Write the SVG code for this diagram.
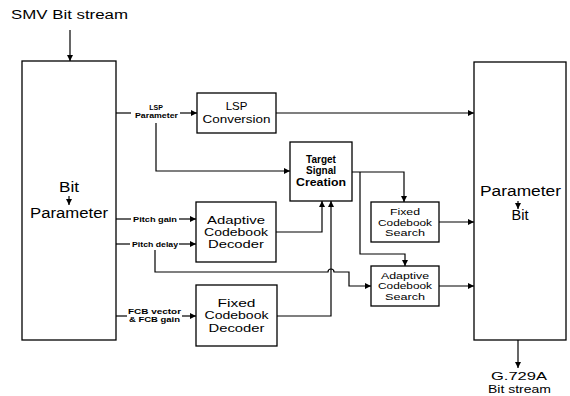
<svg xmlns="http://www.w3.org/2000/svg" width="570" height="396" viewBox="0 0 570 396">
<defs>
<marker id="ah" markerUnits="userSpaceOnUse" markerWidth="7" markerHeight="6" refX="6" refY="3" orient="auto">
<path d="M0,0 L6,3 L0,6 z" fill="#000"/>
</marker>
<style>
.box{fill:#fff;stroke:#000;stroke-width:1.3}
.ln{fill:none;stroke:#000;stroke-width:1.2}
.t{font-family:"Liberation Sans",Arial,sans-serif;fill:#000;text-anchor:middle}
.big{font-size:11px}
.mid{font-size:11.5px}
.sm{font-size:9px}
.lab{font-size:7px;font-weight:bold}
.b{font-weight:bold}
</style>
</defs>
<rect width="570" height="396" fill="#fff"/>
<text class="t" x="11" y="18.5" style="font-size:12.5px;text-anchor:start" textLength="117" lengthAdjust="spacingAndGlyphs">SMV Bit stream</text>

<g id="connectors">
<path class="ln" d="M70,30 V61" marker-end="url(#ah)"/>
<path class="ln" d="M116,113 H131"/>
<path class="ln" d="M180,113 H197" marker-end="url(#ah)"/>
<path class="ln" d="M156,123 V171 H290" marker-end="url(#ah)"/>
<path class="ln" d="M276,113 H474" marker-end="url(#ah)"/>
<path class="ln" d="M116,219 H131"/>
<path class="ln" d="M179,219 H196" marker-end="url(#ah)"/>
<path class="ln" d="M116,244 H130"/>
<path class="ln" d="M179,244 H196" marker-end="url(#ah)"/>
<path class="ln" d="M155,250 V272 H328 A3,3 0 0 1 334,272 H349 V286 H371" marker-end="url(#ah)"/>
<path class="ln" d="M116,316 H127"/>
<path class="ln" d="M182,316 H196" marker-end="url(#ah)"/>
<path class="ln" d="M276,232 H322 V201" marker-end="url(#ah)"/>
<path class="ln" d="M277,316 H331 V201" marker-end="url(#ah)"/>
<path class="ln" d="M352,172 H404 V202" marker-end="url(#ah)"/>
<path class="ln" d="M360,172 V254 H405 V266" marker-end="url(#ah)"/>
<path class="ln" d="M439,222 H474" marker-end="url(#ah)"/>
<path class="ln" d="M439,286 H474" marker-end="url(#ah)"/>
<path class="ln" d="M518,340 V368" marker-end="url(#ah)"/>
</g>

<g id="labels">
<text class="t lab" x="156" y="110">LSP</text>
<text class="t lab" x="156.5" y="118" textLength="43" lengthAdjust="spacingAndGlyphs">Parameter</text>
<text class="t lab" x="155" y="221.5" textLength="44" lengthAdjust="spacingAndGlyphs">Pitch gain</text>
<text class="t lab" x="155" y="246.5" textLength="46" lengthAdjust="spacingAndGlyphs">Pitch delay</text>
<text class="t lab" x="154.5" y="314" textLength="53" lengthAdjust="spacingAndGlyphs">FCB vector</text>
<text class="t lab" x="154.5" y="322" textLength="51" lengthAdjust="spacingAndGlyphs">&amp; FCB gain</text>
</g>

<g id="bit-to-parameter">
<rect class="box" x="22" y="61" width="94" height="279"/>
<text class="t" x="69" y="192" style="font-size:14px" textLength="20" lengthAdjust="spacingAndGlyphs">Bit</text>
<path class="ln" d="M69,196 V205" marker-end="url(#ah)"/>
<text class="t" x="69" y="217.5" style="font-size:14px" textLength="78" lengthAdjust="spacingAndGlyphs">Parameter</text>
</g>

<g id="lsp-conversion">
<rect class="box" x="197" y="93" width="79" height="40"/>
<text class="t mid" x="236.5" y="110">LSP</text>
<text class="t mid" x="236.5" y="123" textLength="68" lengthAdjust="spacingAndGlyphs">Conversion</text>
</g>

<g id="target-signal-creation">
<rect class="box" x="290" y="142" width="62" height="59"/>
<text class="t b" style="font-size:10px" x="321" y="162.5">Target</text>
<text class="t b" style="font-size:10px" x="321" y="174">Signal</text>
<text class="t b" style="font-size:10px" x="321" y="186" textLength="50" lengthAdjust="spacingAndGlyphs">Creation</text>
</g>

<g id="adaptive-codebook-decoder">
<rect class="box" x="196" y="202" width="80" height="60"/>
<text class="t big" x="236" y="224" textLength="58" lengthAdjust="spacingAndGlyphs">Adaptive</text>
<text class="t big" x="236" y="236" textLength="64" lengthAdjust="spacingAndGlyphs">Codebook</text>
<text class="t big" x="236" y="247.5" textLength="56" lengthAdjust="spacingAndGlyphs">Decoder</text>
</g>

<g id="fixed-codebook-decoder">
<rect class="box" x="196" y="285" width="81" height="61"/>
<text class="t big" x="236.5" y="307" textLength="38" lengthAdjust="spacingAndGlyphs">Fixed</text>
<text class="t big" x="236.5" y="319" textLength="64" lengthAdjust="spacingAndGlyphs">Codebook</text>
<text class="t big" x="236.5" y="331.5" textLength="56" lengthAdjust="spacingAndGlyphs">Decoder</text>
</g>

<g id="fixed-codebook-search">
<rect class="box" x="371" y="202" width="68" height="40"/>
<text class="t sm" x="405" y="214.5" textLength="30" lengthAdjust="spacingAndGlyphs">Fixed</text>
<text class="t sm" x="405" y="225.5" textLength="54" lengthAdjust="spacingAndGlyphs">Codebook</text>
<text class="t sm" x="405" y="236" textLength="40" lengthAdjust="spacingAndGlyphs">Search</text>
</g>

<g id="adaptive-codebook-search">
<rect class="box" x="371" y="266" width="68" height="40"/>
<text class="t sm" x="405" y="278.5" textLength="48" lengthAdjust="spacingAndGlyphs">Adaptive</text>
<text class="t sm" x="405" y="289" textLength="54" lengthAdjust="spacingAndGlyphs">Codebook</text>
<text class="t sm" x="405" y="299.5" textLength="40" lengthAdjust="spacingAndGlyphs">Search</text>
</g>

<g id="parameter-to-bit">
<rect class="box" x="474" y="62" width="92" height="278"/>
<text class="t" x="520.5" y="196" style="font-size:14px" textLength="81" lengthAdjust="spacingAndGlyphs">Parameter</text>
<path class="ln" d="M518,201 V209" marker-end="url(#ah)"/>
<text class="t" x="520" y="220" style="font-size:14px" textLength="17" lengthAdjust="spacingAndGlyphs">Bit</text>
</g>

<g id="output-label">
<text class="t" x="519" y="380" style="font-size:11px" textLength="56" lengthAdjust="spacingAndGlyphs">G.729A</text>
<text class="t" x="519.5" y="392.5" style="font-size:11px" textLength="63" lengthAdjust="spacingAndGlyphs">Bit stream</text>
</g>
</svg>
